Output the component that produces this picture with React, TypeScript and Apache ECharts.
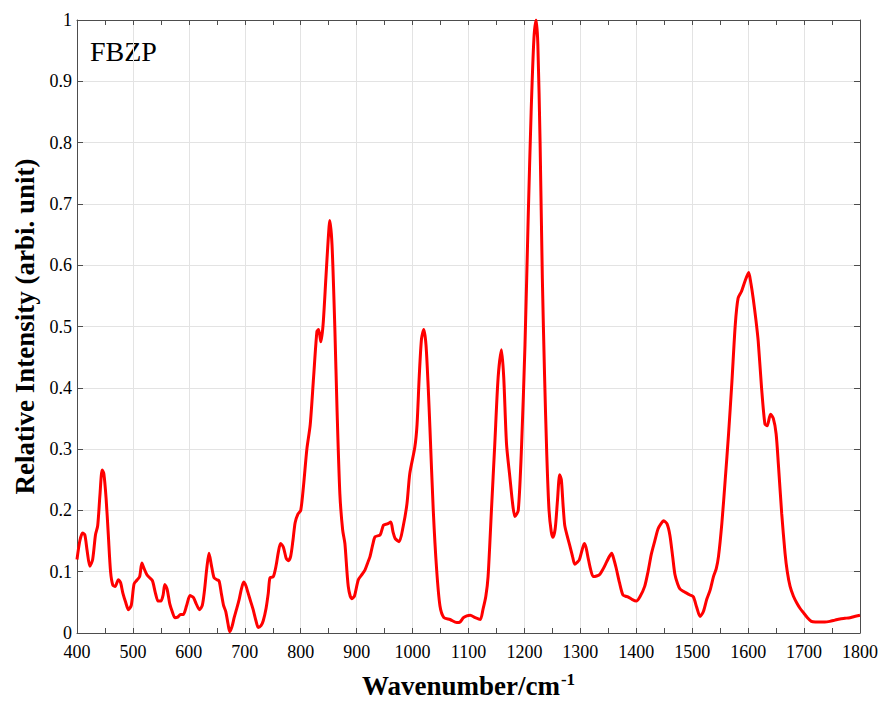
import React, { useEffect, useRef } from "react";
import * as echarts from "echarts";

const wavenumbers = [
  400, 405, 410, 414, 418, 423, 428, 433, 437, 441, 445, 448, 452, 456, 460, 464, 468, 474, 478, 482,
  487, 492, 497, 502, 507, 512, 516, 520, 525, 530, 535, 540, 545, 550, 554, 557, 561, 566, 571, 575,
  580, 585, 590, 596, 602, 608, 613, 619, 624, 628, 632, 636, 640, 645, 650, 654, 658, 662, 666, 670,
  673, 677, 681, 685, 690, 694, 698, 702, 706, 711, 715, 720, 724, 729, 733, 738, 742, 745, 751, 756,
  760, 764, 769, 774, 778, 782, 786, 790, 795, 800, 805, 811, 817, 823, 829, 832, 836, 840, 845, 849,
  852, 856, 861, 865, 870, 875, 879, 885, 891, 896, 903, 910, 915, 920, 924, 929, 933, 942, 948, 955,
  961, 965, 969, 976, 983, 990, 995, 1004, 1008, 1012, 1016, 1020, 1024, 1028, 1031, 1037, 1043, 1049, 1056, 1067,
  1079, 1085, 1091, 1097, 1103, 1112, 1121, 1126, 1131, 1135, 1141, 1147, 1153, 1159, 1163, 1168, 1174, 1179, 1183, 1189,
  1195, 1201, 1207, 1212, 1217, 1221, 1224, 1228, 1232, 1236, 1240, 1244, 1248, 1251, 1255, 1259, 1263, 1266, 1269, 1272,
  1276, 1281, 1286, 1290, 1294, 1298, 1303, 1307, 1310, 1314, 1318, 1323, 1329, 1335, 1341, 1347, 1352, 1356, 1360, 1364,
  1370, 1376, 1381, 1385, 1392, 1400, 1407, 1415, 1421, 1427, 1433, 1439, 1444, 1449, 1455, 1460, 1465, 1469, 1474, 1478,
  1484, 1490, 1496, 1502, 1508, 1514, 1520, 1526, 1532, 1538, 1543, 1547, 1553, 1559, 1565, 1571, 1577, 1582, 1588, 1594,
  1601, 1605, 1609, 1614, 1618, 1624, 1630, 1634, 1640, 1645, 1650, 1654, 1660, 1666, 1670, 1675, 1681, 1687, 1693, 1699,
  1706, 1713, 1720, 1728, 1737, 1746, 1755, 1764, 1773, 1782, 1790, 1800,
];

const intensities = [
  0.12, 0.15, 0.163, 0.16, 0.135, 0.109, 0.12, 0.16, 0.175, 0.225, 0.266, 0.26, 0.22, 0.16, 0.1, 0.078, 0.076, 0.087, 0.082, 0.065,
  0.05, 0.038, 0.045, 0.08, 0.086, 0.092, 0.114, 0.105, 0.095, 0.09, 0.085, 0.066, 0.052, 0.052, 0.062, 0.079, 0.072, 0.047, 0.033, 0.025,
  0.026, 0.03, 0.03, 0.045, 0.061, 0.058, 0.048, 0.038, 0.045, 0.07, 0.105, 0.13, 0.112, 0.09, 0.087, 0.085, 0.065, 0.045, 0.035, 0.015,
  0.002, 0.01, 0.025, 0.038, 0.055, 0.072, 0.083, 0.077, 0.065, 0.05, 0.038, 0.02, 0.009, 0.012, 0.02, 0.04, 0.065, 0.09, 0.092, 0.11,
  0.132, 0.146, 0.14, 0.122, 0.118, 0.125, 0.15, 0.18, 0.194, 0.2, 0.24, 0.3, 0.34, 0.417, 0.492, 0.495, 0.475, 0.503, 0.579, 0.64,
  0.673, 0.633, 0.498, 0.363, 0.227, 0.168, 0.146, 0.076, 0.056, 0.06, 0.087, 0.096, 0.103, 0.115, 0.125, 0.145, 0.157, 0.16, 0.176, 0.178,
  0.181, 0.165, 0.154, 0.149, 0.173, 0.211, 0.26, 0.303, 0.34, 0.42, 0.48, 0.495, 0.47, 0.4, 0.335, 0.2, 0.104, 0.044, 0.025, 0.022,
  0.017, 0.018, 0.025, 0.028, 0.029, 0.025, 0.022, 0.039, 0.06, 0.092, 0.2, 0.308, 0.417, 0.462, 0.417, 0.308, 0.254, 0.21, 0.19, 0.2,
  0.308, 0.47, 0.687, 0.85, 0.97, 1.0, 0.96, 0.8, 0.58, 0.42, 0.29, 0.2, 0.165, 0.156, 0.17, 0.215, 0.258, 0.25, 0.21, 0.176,
  0.16, 0.143, 0.125, 0.112, 0.115, 0.119, 0.135, 0.146, 0.14, 0.122, 0.105, 0.092, 0.093, 0.096, 0.105, 0.116, 0.125, 0.13, 0.12, 0.106,
  0.082, 0.062, 0.06, 0.059, 0.055, 0.052, 0.06, 0.076, 0.1, 0.129, 0.15, 0.17, 0.178, 0.183, 0.178, 0.16, 0.125, 0.096, 0.08, 0.072,
  0.068, 0.065, 0.062, 0.059, 0.042, 0.027, 0.035, 0.055, 0.07, 0.092, 0.105, 0.125, 0.179, 0.25, 0.325, 0.41, 0.503, 0.546, 0.557, 0.573,
  0.588, 0.57, 0.546, 0.51, 0.476, 0.4, 0.341, 0.338, 0.357, 0.35, 0.325, 0.276, 0.195, 0.13, 0.1, 0.076, 0.06, 0.049, 0.04, 0.033,
  0.025, 0.019, 0.018, 0.018, 0.018, 0.019, 0.021, 0.023, 0.024, 0.025, 0.027, 0.029,
];

const sampleName = "FBZP";
const xTitle = "Wavenumber/cm";
const xTitleSup = "-1";
const yTitle = "Relative Intensity (arbi. unit)";

const FONT = "Liberation Serif";
const AXIS_COLOR = "#4d4d4d";

export default function App() {
  const ref = useRef<HTMLDivElement>(null);

  useEffect(() => {
    if (!ref.current) return;
    const chart = echarts.init(ref.current, undefined, { renderer: "svg" });
    const data = wavenumbers.map((w, i) => [w, intensities[i]]);

    const xBase = {
      type: "value",
      min: 400,
      max: 1800,
      interval: 100,
      axisLine: { show: true, onZero: false, lineStyle: { color: AXIS_COLOR, width: 1 } },
      axisTick: { show: true, inside: true, length: 5, lineStyle: { color: AXIS_COLOR } },
      minorTick: { show: true, splitNumber: 2, length: 5, lineStyle: { color: AXIS_COLOR } },
    };
    const yBase = {
      type: "value",
      min: 0,
      max: 1,
      interval: 0.1,
      axisLine: { show: true, onZero: false, lineStyle: { color: AXIS_COLOR, width: 1 } },
      axisTick: { show: true, inside: true, length: 6, lineStyle: { color: AXIS_COLOR } },
    };

    chart.setOption({
      animation: false,
      backgroundColor: "#ffffff",
      textStyle: { fontFamily: FONT },
      grid: { left: 77, right: 24, top: 20, bottom: 68, containLabel: false },
      xAxis: [
        {
          ...xBase,
          position: "bottom",
          axisLabel: {
            color: "#000",
            fontFamily: FONT,
            fontSize: 18,
            lineHeight: 14,
            margin: 12,
            formatter: (v: number) => String(v),
          },
          splitLine: { show: true, lineStyle: { color: "#e3e3e3", width: 1 } },
          name: `{a|${xTitle}}{b|${xTitleSup}}`,
          nameLocation: "middle",
          nameGap: 38,
          nameTextStyle: {
            rich: {
              a: { fontFamily: FONT, fontSize: 27, fontWeight: "bold", color: "#000", lineHeight: 30 },
              b: { fontFamily: FONT, fontSize: 17, fontWeight: "bold", color: "#000", verticalAlign: "top", lineHeight: 30, padding: [0, 0, 12, 1] },
            },
          },
        },
        {
          ...xBase,
          position: "top",
          axisLabel: { show: false },
          splitLine: { show: false },
        },
      ],
      yAxis: [
        {
          ...yBase,
          position: "left",
          axisLabel: {
            color: "#000",
            fontFamily: FONT,
            fontSize: 18,
            lineHeight: 14,
            margin: 5,
            formatter: (v: number) => String(v),
          },
          splitLine: { show: true, lineStyle: { color: "#e3e3e3", width: 1 } },
          name: yTitle,
          nameLocation: "middle",
          nameGap: 39,
          nameTextStyle: { fontFamily: FONT, fontSize: 27, fontWeight: "bold", color: "#000" },
        },
        {
          ...yBase,
          position: "right",
          axisLabel: { show: false },
          splitLine: { show: false },
        },
      ],
      graphic: [
        {
          type: "text",
          left: 90,
          top: 37,
          style: { text: sampleName, fontFamily: FONT, fontSize: 28, fill: "#000" },
        },
      ],
      series: [
        {
          type: "line",
          data,
          xAxisIndex: 0,
          yAxisIndex: 0,
          showSymbol: false,
          smooth: 0.25,
          lineStyle: { color: "#ff0000", width: 3 },
          itemStyle: { color: "#ff0000" },
          clip: true,
        },
      ],
    });

    return () => chart.dispose();
  }, []);

  return (
    <div
      ref={ref}
      style={{ position: "fixed", left: 0, top: 0, width: 884, height: 705, background: "#fff" }}
    />
  );
}
